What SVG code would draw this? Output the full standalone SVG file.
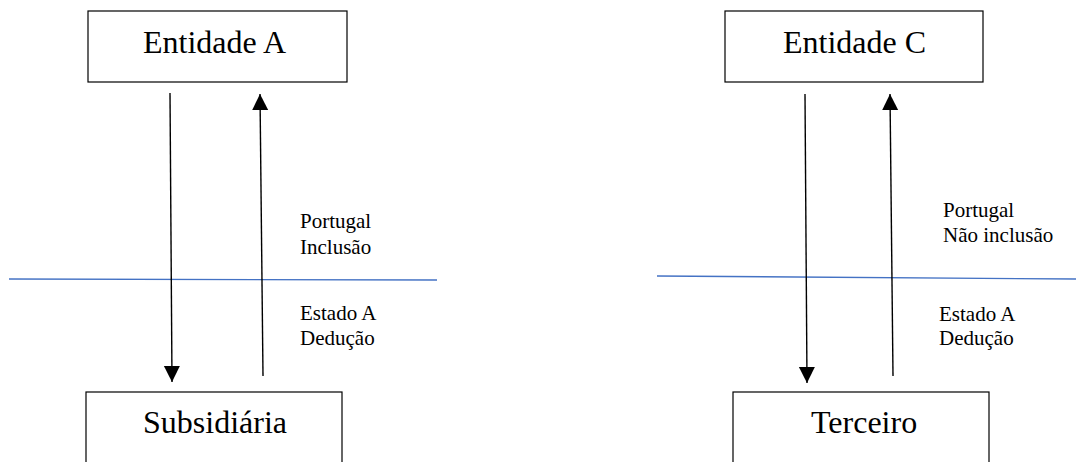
<svg xmlns="http://www.w3.org/2000/svg" width="1076" height="462" viewBox="0 0 1076 462">
  <style>
    .box { fill: #ffffff; stroke: #000000; stroke-width: 1.2; }
    text { font-family: 'Liberation Serif', 'Times New Roman', Times, serif; fill: #000000; }
    .big { font-size: 32px; }
    .small { font-size: 21px; }
    .arrow { stroke: #000000; stroke-width: 1.4; fill: none; }
    .border { stroke: #4472C4; stroke-width: 1.3; fill: none; }
  </style>
  <defs>
    <marker id="head" markerUnits="userSpaceOnUse" markerWidth="16" markerHeight="18" viewBox="0 0 16 18" refX="16" refY="8" orient="auto">
      <path d="M0,0 L16,8 L0,16 Z" fill="#000000"/>
    </marker>
  </defs>

  <g id="borders">
    <line class="border" x1="9" y1="279" x2="437" y2="280"/>
    <line class="border" x1="657" y1="276" x2="1076" y2="279"/>
  </g>

  <g id="entidade-a">
    <rect class="box" x="88" y="11" width="259" height="71"/>
    <text class="big" x="143" y="53">Entidade A</text>
  </g>
  <g id="subsidiaria">
    <rect class="box" x="86" y="392" width="256" height="80"/>
    <text class="big" x="143" y="433">Subsidiária</text>
  </g>
  <g id="entidade-c">
    <rect class="box" x="725" y="11" width="258" height="71"/>
    <text class="big" x="783" y="53">Entidade C</text>
  </g>
  <g id="terceiro">
    <rect class="box" x="733" y="392" width="256" height="80"/>
    <text class="big" x="811" y="433">Terceiro</text>
  </g>

  <g id="connectors">
    <line class="arrow" x1="170" y1="93" x2="172" y2="382" marker-end="url(#head)"/>
    <line class="arrow" x1="263" y1="376" x2="260" y2="94" marker-end="url(#head)"/>
    <line class="arrow" x1="805" y1="94" x2="807" y2="383" marker-end="url(#head)"/>
    <line class="arrow" x1="893" y1="376" x2="890" y2="94" marker-end="url(#head)"/>
  </g>

  <g id="labels-left">
    <text class="small" x="300" y="228">Portugal</text>
    <text class="small" x="300" y="254">Inclusão</text>
    <text class="small" x="300" y="320">Estado A</text>
    <text class="small" x="300" y="345">Dedução</text>
  </g>
  <g id="labels-right">
    <text class="small" x="943" y="217">Portugal</text>
    <text class="small" x="943" y="242">Não inclusão</text>
    <text class="small" x="939" y="321">Estado A</text>
    <text class="small" x="939" y="345">Dedução</text>
  </g>
</svg>
